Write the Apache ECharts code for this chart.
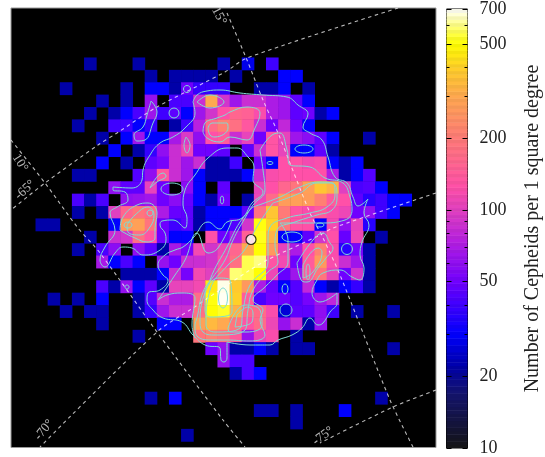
<!DOCTYPE html>
<html><head><meta charset="utf-8">
<style>html,body{margin:0;padding:0;background:#fff}#c{width:545px;height:457px}</style>
<script src="https://cdn.jsdelivr.net/npm/echarts@6/dist/echarts.min.js"></script>
</head><body><div id="c"></div>
<script>
// Cepheid density per cell: each row is a list of runs [startColumn, v, v, ...]; 0 = empty cell
const row04=[[6,22],[10,22],[17,22],[19,28],[21,40]];
const row05=[[11,22],[13,22,22,22,22],[18,22],[22,30,30]];
const row06=[[4,22],[9,22],[11,30,30,22,50,38,38,38],[20,22,22,30],[24,22]];
const row07=[[7,22],[9,22],[11,62,0,42,42,85,300,90,65,85,85,70,65,46,30]];
const row08=[[6,22],[8,22,30,42,65,40,46,30,65,90,125,160,150,120,70,65,46,50,22,30]];
const row09=[[5,22],[8,40,40,30,38,0,22,40,75,170,210,180,135,85,50,80,50,30]];
const row10=[[7,22],[9,30,65,30,30,68,95,60,125,140,85,105,50,130,105,65,58,46,30],[29,22]];
const row11=[[8,30],[10,22,38,60,85,110,50,50,46,0,46,85,130,105,30,30,46,22]];
const row12=[[7,30],[9,22],[11,46,52,85,65,85,22,22,40,0,50,30,125,125,115,120,30,22,30]];
const row13=[[5,22,22],[10,44,60,135,85,65,30,22,22,22,30,85,120,125,125,125,125,70,22,30,44]];
const row14=[[8,60,46,46,105,50,0,58,30,0,46,0,0,105,125,160,190,280,370,320,100,42,44,30]];
const row15=[[5,42,22,42],[9,60,62,66,50,58,48,30,22,50,0,22,110,170,270,280,270,210,140,125,46,36,40,30,30]];
const row16=[[5,22],[7,22,100,160,190,170,70,48,46,22,30,30,30,46,180,370,200,130,120,140,120,110,50,60,40,30]];
const row17=[[2,22,22],[8,30,260,280,190,50,40,46,22,30,30,44,90,510,400,190,130,125,30,115,60,105,36]];
const row18=[[6,22],[8,85,90,180,130,50,30,30,0,125,50,70,150,520,320,30,30,46,90,125,48,110,0,22]];
const row19=[[5,22],[7,42,58,0,60,46,22,68,52,115,90,110,160,300,500,260,105,70,125,210,120,36,52,22]];
const row20=[[7,68,30,42,30,0,62,50,85,85,90,120,180,560,600,130,115,50,140,260,120,85,65,22]];
const row21=[[9,22,22,22,30,85,52,115,100,170,590,560,500,110,48,65,140,190,105,50,90,22]];
const row22=[[7,42,22,62,30,46,22,105,105,115,450,680,380,260,70,48,30,44,80,30,22,30,38,22]];
const row23=[[3,22],[5,22],[7,30],[10,22,44,85,70,70,170,510,690,400,140,42,50,50,44,52,65,80]];
const row24=[[4,22],[6,22,22],[10,22,38,65,85,85,180,500,530,320,170,170,120,26,46,46,60,40],[28,22],[31,22]];
const row25=[[7,22],[12,30,30,0,280,340,300,190,130,170,110,62,85,22,62]];
const row26=[[10,22],[15,190,210,190,140,62,105,120,0,22]];
const row27=[[16,50,62,22,22,30,22,0,22,22],[31,22]];
const row28=[[17,62,42,42]];
const row29=[[18,22,42,30]];
const row31=[[11,22],[13,30],[30,22]];
const row32=[[20,22,22],[23,22],[27,30]];
const row33=[[23,22]];
const row34=[[14,22]];
const densityRows={4:row04,5:row05,6:row06,7:row07,8:row08,9:row09,10:row10,11:row11,12:row12,13:row13,14:row14,15:row15,16:row16,17:row17,18:row18,19:row19,20:row20,21:row21,22:row22,23:row23,24:row24,25:row25,26:row26,27:row27,28:row28,29:row29,31:row31,32:row32,33:row33,34:row34};

// Isodensity contours in map units [mapX, mapY]
const contourOuter=[[193,102],[197,95],[207,91],[220,90],[240,93],[263,95],[287,97],[298,105],[308,114],[303,127],[310,133],[322,140],[328,157],[335,177],[347,183],[353,197],[358,206],[368,199],[364,213],[369,225],[362,242],[360,255],[364,268],[360,280],[352,277],[340,270],[323,273],[317,280],[312,293],[320,302],[337,293],[337,303],[330,312],[323,323],[318,325],[310,318],[302,328],[292,335],[278,340],[270,345],[250,345],[227,342],[227,358],[224,362],[221,360],[220,348],[205,345],[193,335],[182,322],[163,318],[153,310],[147,300],[148,293],[160,290],[168,280],[163,275],[158,265],[165,255],[175,250],[183,247],[193,238],[208,222],[220,229],[227,222],[242,218],[252,203],[263,192],[253,180],[254,167],[248,157],[237,148],[227,148],[208,158],[195,175],[185,190],[183,205],[187,218],[185,228],[173,220],[162,221],[160,225],[165,233],[166,240],[157,252],[143,255],[132,248],[123,247],[115,253],[105,267],[100,260],[105,247],[115,230],[110,213],[117,207],[128,200],[125,192],[113,190],[113,187],[132,188],[142,180],[143,170],[150,155],[160,143],[173,137],[185,128],[195,113],[193,102]];
const contourTeardrop=[[151,101],[157,112],[153,123],[145,140],[137,141],[134,135],[143,127],[147,115],[151,101]];
const contourEye=[[197,102],[210,95],[224,102],[210,108],[197,102]];
const contourWedge=[[150,188],[163,173],[166,176],[157,182],[150,188]];
const contourSliver=[[186,137],[190,145],[187,153],[184,145],[186,137]];
const contourTopBlob=[[203,132],[205,123],[217,118],[225,115],[230,112],[247,107],[260,113],[255,128],[247,140],[230,137],[220,142],[207,138],[203,132]];
const contourTopCore=[[208,128],[212,123],[227,123],[228,128],[215,137],[210,135],[208,128]];
const contourLobe=[[120,230],[123,217],[137,205],[148,203],[157,213],[155,230],[155,238],[147,242],[135,238],[123,232],[120,230]];
const contourLobeCore=[[127,225],[135,215],[148,207],[154,215],[150,227],[140,235],[128,232],[127,225]];
const contourCentral=[[260,150],[272,135],[280,133],[287,150],[290,165],[310,167],[325,178],[343,183],[350,197],[352,210],[345,220],[320,223],[280,223],[288,240],[288,262],[277,275],[265,287],[253,300],[263,310],[260,320],[265,335],[250,341],[227,340],[213,340],[198,337],[195,325],[197,318],[203,292],[213,277],[225,260],[233,240],[245,218],[253,205],[265,190],[263,170],[260,150]];
const contourShoulder=[[232,220],[218,248],[208,253],[197,233],[185,260],[175,275],[165,290],[158,300],[167,295],[182,293],[195,298],[192,325],[195,338]];
const contourRidgeA=[[253,207],[280,197],[300,187],[320,182],[335,185],[337,197],[332,210],[317,215],[295,222],[277,230],[275,245],[278,262],[268,272],[253,290],[248,310],[245,330],[215,335],[203,332],[200,320],[210,280],[228,245],[240,222],[253,207]];
const contourRidgeB=[[273,203],[300,193],[317,183],[333,183],[335,195],[327,207],[310,213],[287,218],[270,227],[268,240],[268,262],[250,285],[243,310],[240,328],[215,332],[206,325],[210,290],[228,265],[243,252],[258,225],[273,203]];
const contourCore=[[205,290],[218,278],[230,280],[232,312],[210,317],[205,310],[205,290]];
const contourBlobR=[[297,263],[313,240],[323,233],[330,243],[333,248],[326,258],[318,268],[307,282],[302,281],[297,263]];
const contourBlobRCore=[[303,265],[318,248],[322,252],[313,272],[303,278],[303,265]];
const contourTriOuter=[[228,328],[245,305],[260,310],[262,325],[247,332],[230,332],[228,328]];
const contourTriInner=[[237,315],[248,307],[253,313],[252,322],[235,327],[237,315]];
const contourLines=[contourOuter,contourTeardrop,contourEye,contourWedge,contourSliver,contourTopBlob,contourTopCore,contourLobe,contourLobeCore,contourCentral,contourShoulder,contourRidgeA,contourRidgeB,contourCore,contourBlobR,contourBlobRCore,contourTriOuter,contourTriInner];
// Small closed contours: [mapX, mapY, radiusX, radiusY]
const contourOvals=[[174,113,5,5],[187,89,3.5,3.5],[172,189,11,6],[222,200,1.7,4],[304,149,9,4],[270,163,3,1.5],[320,225,4,2],[292,237,10,5],[347,249,5.5,5.5],[285,289,3,5],[286,310,6,6],[127,287,2,2],[128,225,4,3],[150,213,3,3],[223,298,4.5,10],[308,272,2,8]];

// Coordinate grid (dashed)
const gridDecA=[[398,8],[247,58],[225,72],[157,107],[117,133],[98,145],[45,183],[11,210]];
const gridDecB=[[436,193],[333,228],[320,235],[267,260],[250,270],[193,308],[157,332],[40,447]];
const gridDecC=[[436,390],[393,407],[320,443]];
const gridRaA=[[227,13],[247,60],[263,100],[278,133],[310,213],[323,238],[340,275],[390,400],[413,447]];
const gridRaB=[[11,140],[45,183],[78,228],[100,253],[157,332],[223,420],[245,447]];
const gridLines=[gridDecA,gridDecB,gridDecC,gridRaA,gridRaB];
const gridLabels=[[25,190,'-65°',42],[44,430,'-70°',50],[323,436,'-75°',36],[20,163,'10°',-58],[219,16,'15°',-62]];
const centerMark=[[251,239.5]];

// Colour scale
const tickValues=[10,20,50,100,200,500,700];
const minorTickValues=[30,40,60,70,80,90,300,400,600];
const colorStops=[[10,'#141414'],[17,'#14146e'],[22,'#0000a8'],[30,'#0000ff'],[50,'#7000ff'],[75,'#b820e0'],[100,'#e040c0'],[125,'#ff50a8'],[200,'#ff7a78'],[300,'#ffa850'],[400,'#ffd028'],[500,'#ffff00'],[600,'#ffff80'],[700,'#ffffff']];
const logMin=1,logMax=Math.log10(700),bandCount=128;

function hexToRgb(h){return [1,3,5].map(i=>parseInt(h.substr(i,2),16));}
function colorAtLog(l){
  for(let i=0;i<colorStops.length-1;i++){
    const a=Math.log10(colorStops[i][0]),b=Math.log10(colorStops[i+1][0]);
    if(l<=b||i===colorStops.length-2){
      const t=Math.max(0,Math.min(1,(l-a)/(b-a))),A=hexToRgb(colorStops[i][1]),B=hexToRgb(colorStops[i+1][1]);
      return A.map((v,j)=>Math.round(v+(B[j]-v)*t));
    }
  }
}
const rgb=c=>'rgb('+c.join(',')+')';
const ramp=[];for(let i=0;i<=bandCount;i++)ramp.push(rgb(colorAtLog(logMin+(logMax-logMin)*i/bandCount)));
const bands=[];for(let i=0;i<bandCount;i++)bands.push([logMin+(logMax-logMin)*i/bandCount,logMin+(logMax-logMin)*(i+1)/bandCount,i]);

const cells=[];
Object.keys(densityRows).forEach(r=>{densityRows[r].forEach(run=>{run.slice(1).forEach((v,i)=>{if(v>0)cells.push([run[0]+i,+r,v,Math.log10(v)]);});});});
const nCols=35,nRows=35;
const idx=n=>Array.from({length:n},(_,i)=>i);

const mapX=0,mapY=0,heatX=1,heatY=1,barX=2;
const series=[{type:'heatmap',xAxisIndex:heatX,yAxisIndex:heatY,data:cells,z:2,progressive:0,emphasis:{disabled:true}}];
gridLines.forEach(l=>series.push({type:'line',xAxisIndex:mapX,yAxisIndex:mapY,data:l,smooth:0.3,symbol:'none',z:3,silent:true,lineStyle:{color:'#ffffff',opacity:.72,width:1.1,type:[3.5,3.5]}}));
contourLines.forEach(l=>series.push({type:'line',xAxisIndex:mapX,yAxisIndex:mapY,data:l,smooth:0.45,symbol:'none',z:4,silent:true,lineStyle:{color:'#7fdcd4',width:1}}));
series.push({type:'custom',xAxisIndex:mapX,yAxisIndex:mapY,data:contourOvals,z:4,silent:true,
  renderItem:(p,api)=>{const c=api.coord([api.value(0),api.value(1)]),s=api.size([api.value(2),api.value(3)]);
    return {type:'ellipse',shape:{cx:c[0],cy:c[1],rx:s[0],ry:s[1]},style:{fill:'none',stroke:'#7fdcd4',lineWidth:1}};}});
series.push({type:'scatter',xAxisIndex:mapX,yAxisIndex:mapY,data:centerMark,symbolSize:10,z:6,silent:true,itemStyle:{color:'#fff',borderColor:'#000',borderWidth:1.2}});
series.push({type:'scatter',xAxisIndex:mapX,yAxisIndex:mapY,symbolSize:0,z:5,silent:true,
  data:gridLabels.map(g=>({value:[g[0],g[1]],label:{show:true,position:'inside',formatter:g[2],rotate:g[3],color:'#e8e8e8',fontFamily:'Liberation Serif',fontSize:13}}))});
series.push({type:'custom',xAxisIndex:barX,yAxisIndex:2,data:bands,z:3,silent:true,clip:true,
  renderItem:(p,api)=>{const lo=api.value(0),hi=api.value(1),a=api.coord([0,lo]),b=api.coord([1,hi]);
    let col=colorAtLog((lo+hi)/2);if(api.value(2)%2)col=col.map(v=>Math.round(v*0.96));
    return {type:'rect',shape:{x:a[0],y:b[1],width:b[0]-a[0],height:a[1]-b[1]+0.5},style:{fill:rgb(col)}};}});

const lg=a=>a.map(v=>Math.log10(v));
const barAxis=(pos,vals,len,extra)=>Object.assign({type:'value',gridIndex:2,position:pos,min:logMin,max:logMax,z:8,
  axisLine:{show:false},splitLine:{show:false},axisLabel:{show:false},
  axisTick:{show:true,inside:true,length:len,customValues:lg(vals),lineStyle:{color:'#000',width:1}}},extra||{});

echarts.init(document.getElementById('c'),null,{renderer:'canvas'}).setOption({
  animation:false,backgroundColor:'#fff',
  grid:[
    {left:11,top:8,width:425,height:439.5,show:true,backgroundColor:'#000',borderColor:'#999',borderWidth:1,containLabel:false},
    {left:11.5,top:8.2,width:424.55,height:433.3},
    {left:446.5,top:8,width:21,height:440,show:true,backgroundColor:'transparent',borderColor:'#000',borderWidth:1}
  ],
  xAxis:[
    {type:'value',gridIndex:0,min:11,max:436,show:false},
    {type:'category',gridIndex:1,data:idx(nCols),show:false},
    {type:'value',gridIndex:2,min:0,max:1,show:false}
  ],
  yAxis:[
    {type:'value',gridIndex:0,min:8,max:447.5,inverse:true,show:false},
    {type:'category',gridIndex:1,data:idx(nRows),inverse:true,show:false},
    barAxis('left',tickValues,5),
    barAxis('right',tickValues,5,{axisLabel:{show:true,customValues:lg(tickValues),margin:12,color:'#222',fontFamily:'Liberation Serif',fontSize:18,showMinLabel:true,showMaxLabel:true,formatter:v=>String(Math.round(Math.pow(10,v)))},
      name:'Number of Cepheids per 1 square degree',nameLocation:'middle',nameRotate:90,nameGap:55,nameTextStyle:{color:'#222',fontFamily:'Liberation Serif',fontSize:20}}),
    barAxis('left',minorTickValues,3),
    barAxis('right',minorTickValues,3)
  ],
  visualMap:{type:'continuous',show:false,seriesIndex:0,dimension:3,min:logMin,max:logMax,inRange:{color:ramp}},
  series:series
});
</script></body></html>
